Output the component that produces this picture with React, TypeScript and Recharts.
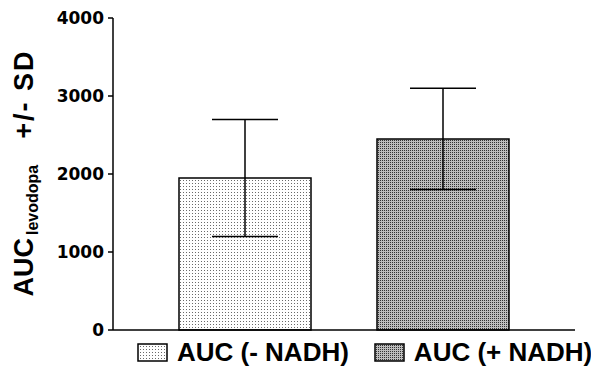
import React from 'react'
import { BarChart, Bar, XAxis, YAxis, ErrorBar, Cell, Legend } from 'recharts'

// data
const categories = ['AUC (- NADH)', 'AUC (+ NADH)']
const means = [1950, 2450]
const sds = [750, 650]
const yTicks = [0, 1000, 2000, 3000, 4000]
const fills = ['url(#dotsLight)', 'url(#screenDark)']

const data = categories.map((name, i) => ({ name, mean: means[i], sd: sds[i] }))

const FONT = '"Liberation Sans", Arial, Helvetica, sans-serif'

// rotated y label with subscript
const YLabel = ({ viewBox }: any) => {
  const cx = 33
  const cy = viewBox.y + viewBox.height / 2 - 1
  return (
    <text
      x={cx}
      y={cy}
      transform={`rotate(-90, ${cx}, ${cy})`}
      textAnchor="middle"
      fontFamily={FONT}
      fontWeight="bold"
      fontSize={27}
      fill="#000"
    >
      <tspan>AUC</tspan>
      <tspan fontSize={16} dx={3} dy={5}>levodopa</tspan>
      <tspan dx={26} dy={-5} letterSpacing={2}>+/- SD</tspan>
    </text>
  )
}

const renderLegend = () => (
  <div
    style={{
      display: 'flex',
      alignItems: 'center',
      height: 36,
      paddingLeft: 137,
      gap: 25,
      fontFamily: FONT,
      fontWeight: 'bold',
      fontSize: 26,
      color: '#000',
    }}
  >
    {categories.map((c, i) => (
      <div key={c} style={{ display: 'flex', alignItems: 'center' }}>
        <svg width={31} height={19} style={{ display: 'block' }}>
          <rect x={1} y={1} width={29} height={17} fill={fills[i]} stroke="#000" strokeWidth={1.5} />
        </svg>
        <span style={{ marginLeft: 9, whiteSpace: 'nowrap' }}>{c}</span>
      </div>
    ))}
  </div>
)

export default function App() {
  return (
    <div style={{ position: 'absolute', left: 0, top: 0, width: 591, height: 370, background: '#fff' }}>
      <BarChart width={591} height={370} data={data} margin={{ top: 18, right: 16, left: 0, bottom: 0 }}>
        <defs>
          <pattern id="dotsLight" width={3} height={3} patternUnits="userSpaceOnUse">
            <rect width={3} height={3} fill="#fff" />
            <rect width={1} height={1} fill="#6a6a6a" />
          </pattern>
          <pattern id="screenDark" width={2} height={2} patternUnits="userSpaceOnUse">
            <rect width={2} height={2} fill="#bdbdbd" />
            <rect width={1} height={1} fill="#333" />
          </pattern>
        </defs>
        <XAxis
          dataKey="name"
          height={4}
          tick={false}
          tickLine={false}
          axisLine={{ stroke: '#000', strokeWidth: 1.5 }}
          padding={{ left: 33, right: 33 }}
        />
        <YAxis
          width={113}
          domain={[0, 4000]}
          ticks={yTicks}
          interval={0}
          tickSize={5}
          tickMargin={4}
          axisLine={{ stroke: '#000', strokeWidth: 1.5 }}
          tickLine={{ stroke: '#000', strokeWidth: 1.5 }}
          tick={{ fill: '#000', fontSize: 17, fontWeight: 'bold', fontFamily: '"DejaVu Sans", sans-serif' }}
          label={(props: any) => <YLabel {...props} />}
        />
        <Legend verticalAlign="bottom" height={36} content={renderLegend} wrapperStyle={{ left: 0, width: 591, bottom: 0 }} />
        <Bar dataKey="mean" barSize={132} stroke="#000" strokeWidth={1.5} isAnimationActive={false}>
          {data.map((d, i) => (
            <Cell key={d.name} fill={fills[i]} />
          ))}
          <ErrorBar dataKey="sd" width={33} stroke="#000" strokeWidth={1.5} isAnimationActive={false} />
        </Bar>
      </BarChart>
    </div>
  )
}
